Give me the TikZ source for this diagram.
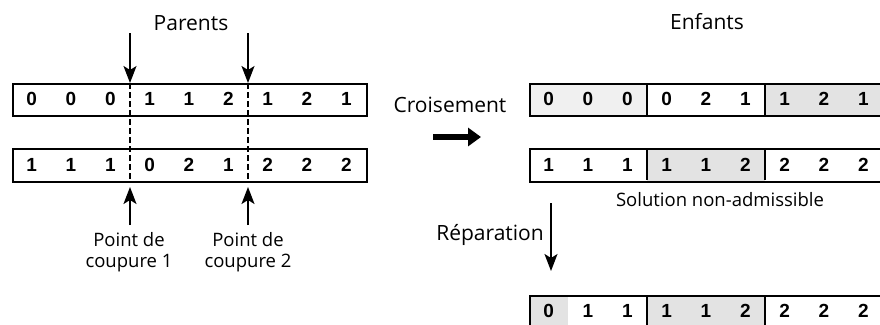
\documentclass[tikz,border=0pt]{standalone}
\usepackage{fontspec}
\setmainfont{Open Sans}
\newfontfamily\digitfont{Liberation Sans}
\usetikzlibrary{arrows.meta}
\begin{document}
\begin{tikzpicture}[x=1pt,y=-1pt,
  genebox/.style={draw, line width=1.7pt, minimum width=354pt, minimum height=32pt, anchor=north west, inner sep=0pt},
  digit/.style={font=\digitfont\bfseries\fontsize{19}{19}\selectfont, inner sep=0pt},
  lbl/.style={font=\fontsize{21}{24}\selectfont, inner sep=0pt},
  small/.style={font=\fontsize{18.5}{21}\selectfont, inner sep=0pt, align=center},
  arr/.style={line width=1.5pt, -{Stealth[length=17pt,width=13pt,inset=4pt]}},
  cut/.style={line width=1.2pt, dash pattern=on 6pt off 3pt},
  shadecell/.style={fill=black!11},
  lightcell/.style={fill=black!6}
]
\useasboundingbox (0,0) rectangle (880,324);
\clip (0,0) rectangle (880,324);
\def\cw{39.333}
% shading
\foreach \i in {1,2,3} \fill[lightcell] ({529+(\i-1)*\cw},83) rectangle ++(\cw,32);
\foreach \i in {7,8,9} \fill[shadecell] ({529+(\i-1)*\cw},83) rectangle ++(\cw,32);
\foreach \i in {4,5,6} \fill[shadecell] ({529+(\i-1)*\cw},148) rectangle ++(\cw,33);
\foreach \i in {1,4,5,6} \fill[shadecell] ({529+(\i-1)*\cw},295) rectangle ++(\cw,33);
% boxes
\node[genebox] (p1) at (12,83) {};
\node[genebox, minimum height=33pt] (p2) at (12,148) {};
\node[genebox] (e1) at (529,83) {};
\node[genebox, minimum height=33pt] (e2) at (529,148) {};
\node[genebox, minimum height=33pt] (r) at (529,295) {};
% group dividers in children
\foreach \y in {83,148,295}{
  \draw[line width=1.4pt] ({529+3*\cw},\y) -- ({529+3*\cw},{\y+32});
  \draw[line width=1.4pt] ({529+6*\cw},\y) -- ({529+6*\cw},{\y+32});
}
% digits
\foreach \d [count=\i] in {0,0,0,1,1,2,1,2,1} \node[digit] (p1d\i) at ({12+(\i-0.5)*\cw},99) {\d};
\foreach \d [count=\i] in {1,1,1,0,2,1,2,2,2} \node[digit] (p2d\i) at ({12+(\i-0.5)*\cw},164.5) {\d};
\foreach \d [count=\i] in {0,0,0,0,2,1,1,2,1} \node[digit] (e1d\i) at ({529+(\i-0.5)*\cw},99) {\d};
\foreach \d [count=\i] in {1,1,1,1,1,2,2,2,2} \node[digit] (e2d\i) at ({529+(\i-0.5)*\cw},164.5) {\d};
\foreach \d [count=\i] in {0,1,1,1,1,2,2,2,2} \node[digit] (rd\i) at ({529+(\i-0.5)*\cw},311) {\d};
% cut points
\foreach \k/\x in {1/130,2/248}{
  \coordinate (ta\k) at (\x,33);
  \coordinate (tb\k) at (\x,83);
  \coordinate (bb\k) at (\x,182);
  \coordinate (bt\k) at (\x,187);
  \coordinate (ba\k) at (\x,225);
  \draw[arr] (ta\k) -- (tb\k);
  \draw[cut] (tb\k) -- (bb\k);
  \draw[arr] (ba\k) -- (bt\k);
}
% labels
\node[lbl] (parents) at (191,23) {Parents};
\node[lbl] (enfants) at (707,22) {Enfants};
\node[small] (pc1) at (129,252) {Point de\\coupure 1};
\node[small] (pc2) at (248,252) {Point de\\coupure 2};
\node[lbl] (crois) at (450,105) {Croisement};
\coordinate (ca) at (433,137);
\coordinate (cb) at (481,137);
\draw[line width=6pt, -{Triangle[length=13pt,width=18pt]}] (ca) -- (cb);
\node[small] (sna) at (720,200) {Solution non-admissible};
\node[lbl, anchor=east] (rep) at (544,235) {Réparation};
\coordinate (ra) at (551,203);
\coordinate (rb) at (551,271);
\draw[arr] (ra) -- (rb);
\end{tikzpicture}
\end{document}
